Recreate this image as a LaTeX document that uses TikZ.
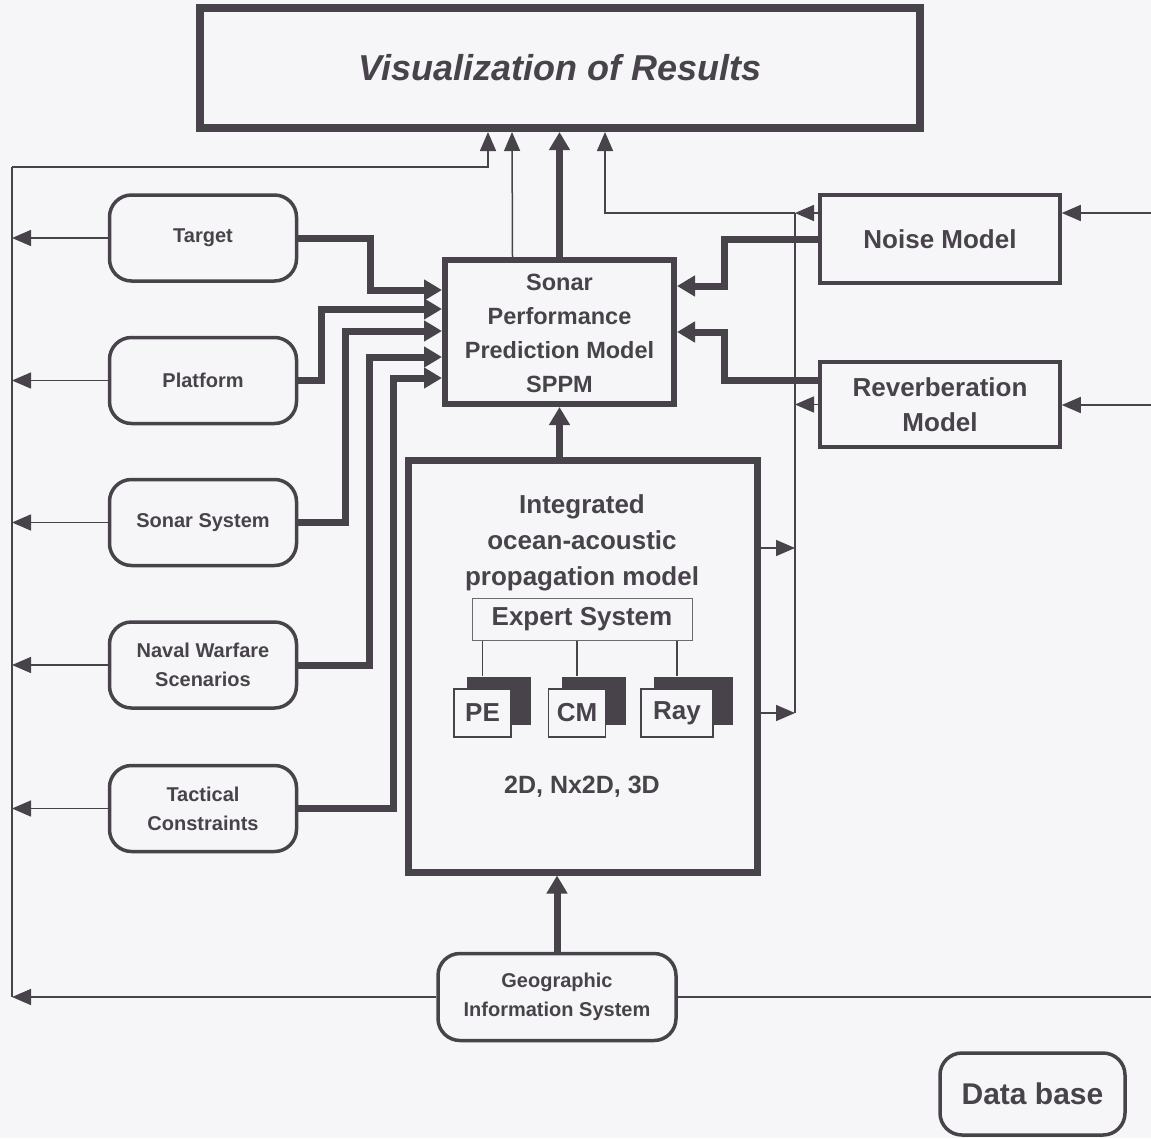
\documentclass[tikz,border=0pt]{standalone}
\usepackage{fontspec}
\setmainfont{Liberation Sans}
\usetikzlibrary{arrows.meta,calc}
\definecolor{ink}{RGB}{72,67,74}
\definecolor{paper}{RGB}{246,246,248}
\newcommand{\smFont}[2]{\fontsize{#1}{#2}\selectfont\bfseries}
% model box with dark shadow behind it: name, x, width, text
\newcommand{\smModel}[4]{%
    \node[fill=ink, minimum width=#3pt+7pt, minimum height=48pt, inner sep=0pt] (#1back) at (#2+16.5,700.5) {};
    \node[frontbox, minimum width=#3pt] (#1) at (#2,713) {#4};
}
\tikzset{
    sidebox/.style={draw=ink, line width=3.5pt, rounded corners=22pt, minimum width=187pt,
        minimum height=86pt, inner sep=0pt, align=center, text=ink, font=\smFont{20}{29}},
    modelbox/.style={draw=ink, line width=3.5pt, minimum width=240pt, inner sep=0pt,
        align=center, text=ink, font=\smFont{26}{35}},
    frontbox/.style={draw=ink, fill=paper, line width=1.3pt, minimum height=48pt, inner sep=0pt,
        text=ink, font=\smFont{26}{30}},
    thickflow/.style={draw=ink, line width=7pt, -{Triangle[length=18pt,width=20pt]}},
    thinflow/.style={draw=ink, line width=1.5pt, -{Triangle[length=19pt,width=16pt]}},
    thinline/.style={draw=ink, line width=1.5pt},
}

\begin{document}
\begin{tikzpicture}[x=1pt,y=-1pt]
    \fill[paper] (0,0) rectangle (1151,1138);
    \useasboundingbox (0,0) rectangle (1151,1138);

    % main boxes
    \node[draw=ink, line width=8pt, minimum width=720pt, minimum height=120pt, inner sep=0pt,
        text=ink, font=\smFont{36}{40}\itshape] (vis) at (560,68) {Visualization of Results};
    \node[draw=ink, line width=6pt, minimum width=229pt, minimum height=144pt, inner sep=0pt,
        align=center, text=ink, font=\smFont{23.5}{34}] (sppm) at (559.5,332)
        {\rule{0pt}{20pt}Sonar\\Performance\\Prediction Model\\SPPM};
    \node[draw=ink, line width=7pt, minimum width=349pt, minimum height=412pt, inner sep=0pt] (integ) at (582.5,666) {};
    \node[text=ink, align=center, font=\smFont{26}{36}] (integtext) at (582,543)
        {Integrated\\ocean-acoustic\\propagation model};
    \node[draw=ink!80, line width=1pt, minimum width=220pt, minimum height=42pt, inner sep=0pt,
        text=ink, font=\smFont{26}{30}] (expert) at (582,619) {Expert System};
    \smModel{pe}{482.5}{57}{PE}
    \smModel{cm}{577}{57}{CM}
    \smModel{ray}{677}{72}{Ray}
    \node[text=ink, font=\smFont{25}{30}] (dims) at (582,787) {2D, Nx2D, 3D};

    \node[modelbox, minimum height=88pt] (noise) at (940,239) {Noise Model};
    \node[modelbox, minimum height=85pt] (reverb) at (940,404.5) {Reverberation\\Model};

    % input boxes on the left
    \foreach \name/\y/\txt in {target/238/Target, platform/380.5/Platform, sonarsys/522.5/Sonar System,
        naval/665/{Naval Warfare\\Scenarios}, tactical/808.5/{Tactical\\Constraints}} {
        \node[sidebox] (\name) at (203,\y) {\txt};
    }
    \node[sidebox, minimum width=238pt, minimum height=87pt] (gis) at (557,997) {Geographic\\Information System};
    \node[sidebox, minimum width=185pt, minimum height=82pt, font=\smFont{30}{34}] (database) at (1032.5,1094) {Data base};

    % bus points
    \coordinate (lbtop) at (12,167);
    \coordinate (lbbot) at (12,997);
    \coordinate (nbus) at (795,213);
    \coordinate (ibus1) at (795,548);
    \coordinate (ibus2) at (795,713);
    \coordinate (rnoise) at (1151,213);
    \coordinate (rreverb) at (1151,405);
    \coordinate (rgis) at (1151,997);

    % thin lines
    \draw[thinline] (lbtop) -- (lbbot);
    \draw[thinflow] (lbtop) -| ($(vis.south)+(-72,0)$);
    \draw[thinflow] ($(sppm.north)+(-47,0)$) -- ($(vis.south)+(-48,0)$);
    \draw[thinflow] (nbus) -| ($(vis.south)+(45,0)$);
    \draw[thinline] (nbus) -- (ibus2);
    \draw[thinflow] ($(noise.west)+(0,-26)$) -- (nbus);
    \draw[thinflow] (reverb.west) -- (reverb.west -| nbus);
    \draw[thinflow] (ibus1 -| integ.east) -- (ibus1);
    \draw[thinflow] (ibus2 -| integ.east) -- (ibus2);
    \draw[thinflow] (rnoise) -- (rnoise -| noise.east);
    \draw[thinflow] (rreverb) -- (rreverb -| reverb.east);
    \draw[thinline] (rgis) -- (gis.east);
    \draw[thinflow] (gis.west) -- (lbbot);
    \foreach \name in {target, platform, sonarsys, naval, tactical} {
        \draw[thinflow] (\name.west) -- (\name.west -| lbtop);
    }
    \foreach \m in {pe, cm, ray} {
        \draw[thinline] (\m.north |- expert.south) -- (\m.north |- \m back.north);
    }

    % thick flows
    \foreach \name/\dx/\dy in {target/72/-42, platform/23/-23, sonarsys/47/-1, naval/71/25, tactical/95/46} {
        \draw[thickflow] (\name.east) -- ++(\dx,0) |- ($(sppm.west)+(0,\dy)$);
    }
    \draw[thickflow] (noise.west) -- ++(-94,0) |- ($(sppm.east)+(0,-46)$);
    \draw[thickflow] ($(reverb.west)+(0,-24)$) -- ++(-94,0) |- (sppm.east);
    \draw[thickflow] (sppm.north) -- (sppm.north |- vis.south);
    \draw[thickflow] (sppm.south |- integ.north) -- (sppm.south);
    \draw[thickflow] (gis.north) -- (gis.north |- integ.south);
\end{tikzpicture}
\end{document}
